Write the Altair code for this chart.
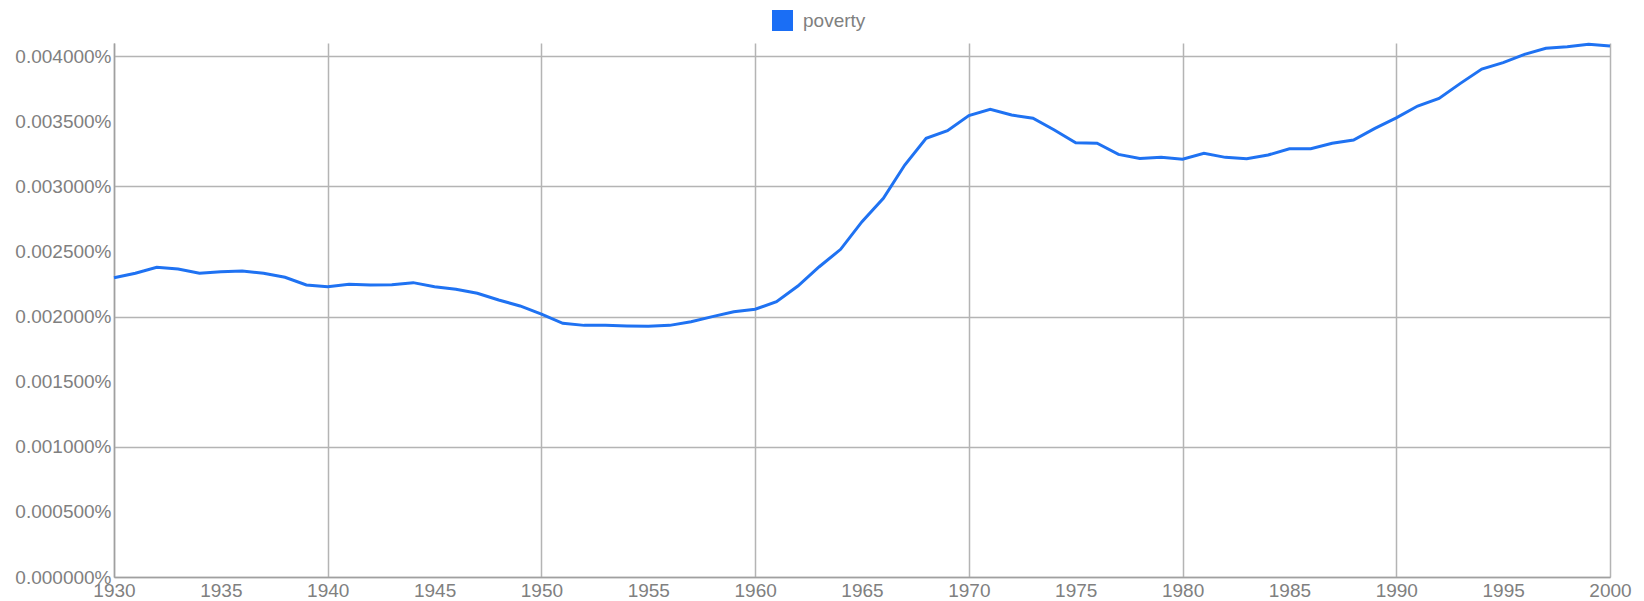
import altair as alt
import pandas as pd

years = list(range(1930, 2001))
poverty = [
    0.002298, 0.002332, 0.002378, 0.002365, 0.002332, 0.002344, 0.002349, 0.002332, 0.002301, 0.002242,
    0.002229, 0.002247, 0.002242, 0.002244, 0.002260, 0.002229, 0.002209, 0.002178, 0.002127, 0.002081,
    0.002018, 0.001948, 0.001932, 0.001932, 0.001927, 0.001925, 0.001932, 0.001960, 0.001999, 0.002037,
    0.002056, 0.002114, 0.002234, 0.002382, 0.002516, 0.002728, 0.002907, 0.003163, 0.003368, 0.003427,
    0.003543, 0.003591, 0.003547, 0.003522, 0.003432, 0.003334, 0.003330, 0.003245, 0.003214, 0.003222,
    0.003207, 0.003253, 0.003222, 0.003212, 0.003240, 0.003288, 0.003288, 0.003330, 0.003355, 0.003445,
    0.003525, 0.003616, 0.003675, 0.003790, 0.003900, 0.003949, 0.004013, 0.004059, 0.004072, 0.004090,
    0.004077,
]
series_name = "poverty"
x_ticks = list(range(1930, 2001, 5))
y_ticks = [0.0, 0.0005, 0.001, 0.0015, 0.002, 0.0025, 0.003, 0.0035, 0.004]

df = pd.DataFrame({"year": years, "value": poverty, "term": [series_name] * len(years)})

FONT = "Liberation Sans"
LABEL_COLOR = "#808080"
GRID = "#b4b4b4"

chart = (
    alt.Chart(df)
    .mark_line(strokeWidth=3, interpolate="linear")
    .encode(
        x=alt.X(
            "year:Q",
            scale=alt.Scale(domain=[1930, 2000], nice=False, zero=False),
            axis=alt.Axis(
                title=None,
                values=x_ticks,
                format="d",
                ticks=False,
                tickSize=0,
                labelPadding=4,
                labelFontSize=19,
                labelFont=FONT,
                labelColor=LABEL_COLOR,
                labelOverlap=False,
                labelFlush=False,
                domainColor="#a0a0a0",
                domainWidth=1.5,
                grid=True,
                gridColor=GRID,
                gridWidth=1.5,
                gridOpacity={"condition": {"test": "datum.value % 10 === 0", "value": 1}, "value": 0},
            ),
        ),
        y=alt.Y(
            "value:Q",
            scale=alt.Scale(domain=[0, 0.0041], nice=False),
            axis=alt.Axis(
                title=None,
                values=y_ticks,
                labelExpr="format(datum.value, '.6f') + '%'",
                ticks=False,
                tickSize=0,
                labelPadding=3,
                labelFontSize=19,
                labelFont=FONT,
                labelColor=LABEL_COLOR,
                labelOverlap=False,
                labelFlush=False,
                labelBaseline="middle",
                domainColor="#a0a0a0",
                domainWidth=1.5,
                grid=True,
                gridColor=GRID,
                gridWidth=1.5,
                gridOpacity={
                    "condition": {"test": "round(datum.value * 2000) % 2 === 0", "value": 1},
                    "value": 0,
                },
            ),
        ),
        color=alt.Color(
            "term:N",
            scale=alt.Scale(domain=[series_name], range=["#1f72f2"]),
            legend=alt.Legend(
                title=None,
                orient="none",
                legendX=658,
                legendY=-33,
                direction="horizontal",
                symbolType="square",
                symbolSize=441,
                symbolFillColor="#1a6ef5",
                symbolStrokeWidth=0,
                symbolOpacity=1,
                labelFontSize=19,
                labelFont=FONT,
                labelColor=LABEL_COLOR,
                labelOffset=10,
                padding=0,
            ),
        ),
    )
    .properties(
        width=1496,
        height=534,
        autosize=alt.AutoSizeParams(type="none"),
        padding={"left": 106, "top": 35, "right": 26, "bottom": 22},
    )
    .configure_view(strokeOpacity=0)
)

chart.save("out.html", embed_options={"renderer": "svg", "actions": False})
